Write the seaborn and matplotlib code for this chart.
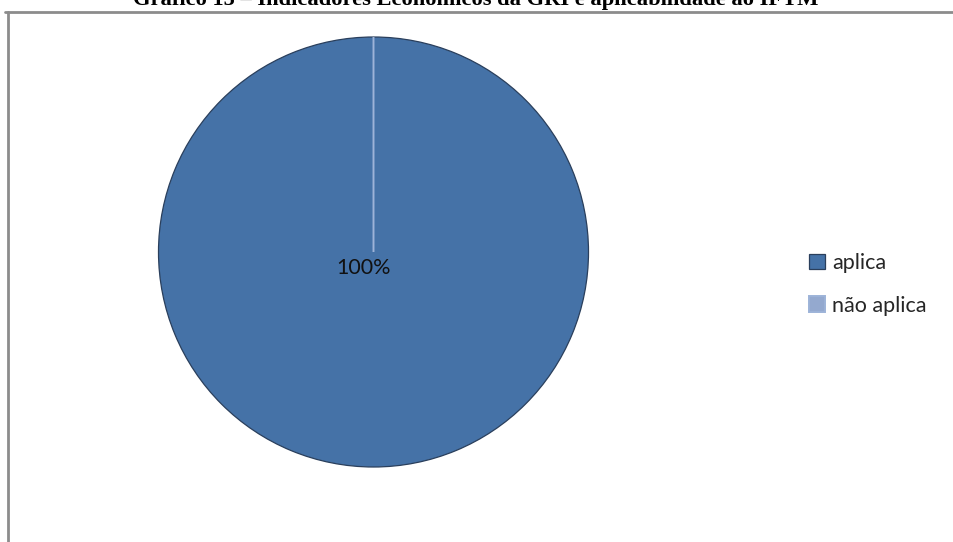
import matplotlib
matplotlib.use("Agg")
import matplotlib.pyplot as plt
from matplotlib.lines import Line2D
import seaborn as sns

categories = ["aplica", "não aplica"]
values = [100, 0]
title = "Gráfico 15 – Indicadores Econômicos da GRI e aplicabilidade ao IFTM"

sns.set_theme(style="white")
plt.rcParams['font.family'] = ['Lato', 'DejaVu Sans']

colors = ["#4572A7", "#94A9CF"]

W, H = 954, 542
fig = plt.figure(figsize=(W / 100, H / 100), dpi=100)
fig.patch.set_facecolor("white")

cx, cy, r = 373.5, 252, 215
ax = fig.add_axes([(cx - r) / W, (H - cy - r) / H, 2 * r / W, 2 * r / H])

wedges, texts, autotexts = ax.pie(
    values, colors=colors, startangle=90, counterclock=False, radius=1,
    autopct=lambda p: f"{p:.0f}%" if p > 0 else "", pctdistance=0.075,
    wedgeprops=dict(linewidth=0.9),
    textprops=dict(fontsize=15.5, color="#111111"),
)
ax.set_xlim(-1, 1)
ax.set_ylim(-1, 1)
ax.set_aspect("equal")
ax.axis("off")

wedges[0].set_edgecolor("#2a3f5c")
wedges[1].set_edgecolor("#9db3d8")
wedges[1].set_linewidth(1.4)
for t in autotexts:
    x, y = t.get_position()
    t.set_position((x - 0.045, y))

leg = fig.legend(
    wedges, categories, loc="upper left",
    bbox_to_anchor=(794 / W, 1 - 238 / H), frameon=False,
    fontsize=15.5, handlelength=0.72, handleheight=0.72, handletextpad=0.35,
    labelspacing=1.05, borderpad=0.2,
)

fig.text(476 / W, 1 - 5 / H, title, ha="center", va="baseline",
         fontsize=16.2, fontweight="bold", family="Liberation Serif", color="black")

fig.add_artist(Line2D([5 / W, 1], [1 - 12 / H, 1 - 12 / H], transform=fig.transFigure,
                      color="#8c8c8c", linewidth=2))
fig.add_artist(Line2D([8 / W, 8 / W], [0, 1 - 12 / H], transform=fig.transFigure,
                      color="#8c8c8c", linewidth=2))

fig.savefig("out.png", dpi=100)
